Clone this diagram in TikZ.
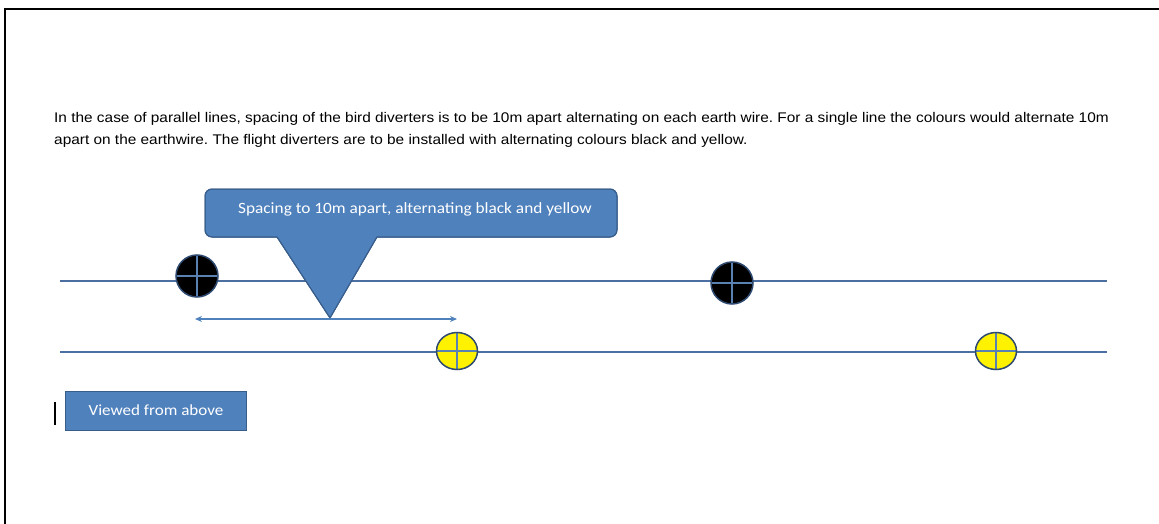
\documentclass[tikz,border=0pt]{standalone}
\usepackage{fontspec}
\setmainfont[FakeStretch=1.1]{Liberation Sans}
\newfontfamily\calfont[FakeStretch=1.1]{Carlito}
\usetikzlibrary{shapes.geometric,arrows.meta}
\definecolor{obl}{HTML}{4F81BD}
\definecolor{obd}{HTML}{385D8A}
\definecolor{wirec}{HTML}{4A6FA0}
\definecolor{ringc}{HTML}{2F4A70}
\tikzset{
  frameline/.style={line width=2pt, black},
  bodytext/.style={anchor=base west, inner sep=0pt, font=\frenchspacing\fontsize{14}{16}\selectfont, text=black},
  wire/.style={draw=wirec, line width=1.3pt},
  calloutshape/.style={fill=obl, draw=obd, line width=1pt},
  whitetext/.style={text=white, inner sep=0pt, font=\calfont\fontsize{15.7}{18}\selectfont},
  diverter/.style={circle, minimum size=42pt, inner sep=0pt, draw=ringc, line width=1.5pt,
    path picture={\draw[obl!80!gray, line width=1.4pt]
      (path picture bounding box.north) -- (path picture bounding box.south)
      (path picture bounding box.west) -- (path picture bounding box.east);}},
  blackdiv/.style={diverter, fill=black},
  yellowdiv/.style={diverter, ellipse, minimum width=41pt, minimum height=37pt, fill=yellow},
  spacing/.style={draw=obl, line width=1.2pt, {Stealth[length=7pt,width=6pt]}-{Stealth[length=7pt,width=6pt]}},
  viewbox/.style={fill=obl, draw=obd, line width=1pt, minimum width=181pt, minimum height=39pt, inner sep=0pt}
}
\begin{document}
\begin{tikzpicture}[x=1pt,y=1pt]
\useasboundingbox (0,0) rectangle (1159,-524);
% frame
\coordinate (fl) at (5,-524);
\coordinate (fc) at (5,-9);
\coordinate (fr) at (1159,-9);
\draw[frameline] (fl) -- (fc) -- (fr);
% body text
\node[bodytext] (t1) at (54,-123) {In the case of parallel lines, spacing of the bird diverters is to be 10m apart alternating on each earth wire. For a single line the colours would alternate 10m};
\node[bodytext] (t2) at (54,-145) {apart on the earthwire. The flight diverters are to be installed with alternating colours black and yellow.};
% wires
\coordinate (w1a) at (60,-281);
\coordinate (w1b) at (1107,-281);
\coordinate (w2a) at (60,-352);
\coordinate (w2b) at (1107,-352);
\draw[wire] (w1a) -- (w1b);
\draw[wire] (w2a) -- (w2b);
% callout
\fill[calloutshape] (277,-237) -- (330,-318) -- (377,-237) -- (610,-237)
  arc[start angle=270,end angle=360,radius=7] -- (617,-196)
  arc[start angle=0,end angle=90,radius=7] -- (212,-189)
  arc[start angle=90,end angle=180,radius=7] -- (205,-230)
  arc[start angle=180,end angle=270,radius=7] -- cycle;
\draw[calloutshape, fill=none] (277,-237) -- (330,-318) -- (377,-237) -- (610,-237)
  arc[start angle=270,end angle=360,radius=7] -- (617,-196)
  arc[start angle=0,end angle=90,radius=7] -- (212,-189)
  arc[start angle=90,end angle=180,radius=7] -- (205,-230)
  arc[start angle=180,end angle=270,radius=7] -- cycle;
\node[whitetext, anchor=base] (callout) at (415,-213) {Spacing to 10m apart, alternating black and yellow};
% spacing arrow
\coordinate (a1) at (195,-319);
\coordinate (a2) at (457,-319);
\draw[spacing] (a1) -- (a2);
% diverters
\node[blackdiv] (b1) at (197,-276) {};
\node[blackdiv] (b2) at (732,-283) {};
\node[yellowdiv] (y1) at (457,-351) {};
\node[yellowdiv] (y2) at (996,-351) {};
% viewed from above
\node[viewbox] (view) at (155.5,-410.5) {};
\node[whitetext, anchor=base, font=\calfont\fontsize{15.5}{18}\selectfont] (viewt) at (156,-415) {Viewed from above};
% text cursor
\coordinate (c1) at (55,-402);
\coordinate (c2) at (55,-425);
\draw[line width=1.3pt] (c1) -- (c2);
\end{tikzpicture}
\end{document}
